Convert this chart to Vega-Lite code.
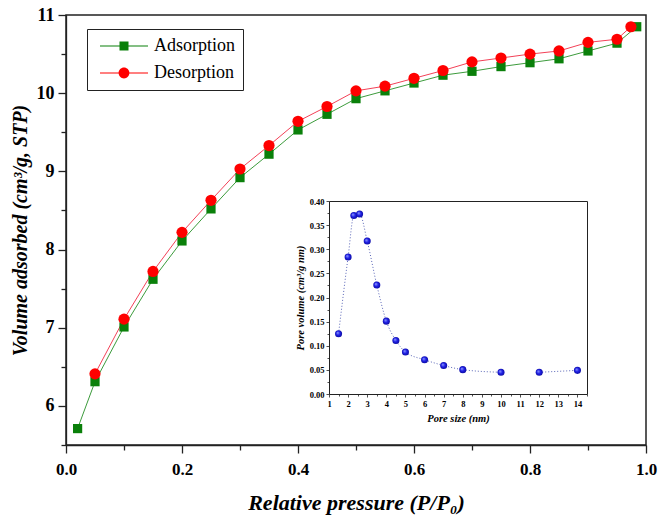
{
  "$schema": "https://vega.github.io/schema/vega-lite/v6.json",
  "autosize": "none",
  "width": 580,
  "height": 430,
  "padding": {"left": 66, "top": 15, "right": 14, "bottom": 77},
  "background": "white",
  "config": {
    "view": {"stroke": "#222222", "strokeWidth": 1.5},
    "font": "Liberation Serif",
    "axis": {"grid": false, "domainColor": "#222222", "tickColor": "#222222", "labelColor": "black", "titleColor": "black"}
  },
  "datasets": {
    "isotherm": [
      {"p": 0.02, "v": 5.71, "branch": "Adsorption"},
      {"p": 0.05, "v": 6.31, "branch": "Adsorption"},
      {"p": 0.10, "v": 7.01, "branch": "Adsorption"},
      {"p": 0.15, "v": 7.62, "branch": "Adsorption"},
      {"p": 0.20, "v": 8.11, "branch": "Adsorption"},
      {"p": 0.25, "v": 8.52, "branch": "Adsorption"},
      {"p": 0.30, "v": 8.92, "branch": "Adsorption"},
      {"p": 0.35, "v": 9.22, "branch": "Adsorption"},
      {"p": 0.40, "v": 9.53, "branch": "Adsorption"},
      {"p": 0.45, "v": 9.73, "branch": "Adsorption"},
      {"p": 0.50, "v": 9.93, "branch": "Adsorption"},
      {"p": 0.55, "v": 10.03, "branch": "Adsorption"},
      {"p": 0.60, "v": 10.13, "branch": "Adsorption"},
      {"p": 0.65, "v": 10.23, "branch": "Adsorption"},
      {"p": 0.70, "v": 10.28, "branch": "Adsorption"},
      {"p": 0.75, "v": 10.34, "branch": "Adsorption"},
      {"p": 0.80, "v": 10.39, "branch": "Adsorption"},
      {"p": 0.85, "v": 10.44, "branch": "Adsorption"},
      {"p": 0.90, "v": 10.54, "branch": "Adsorption"},
      {"p": 0.95, "v": 10.64, "branch": "Adsorption"},
      {"p": 0.984, "v": 10.85, "branch": "Adsorption"},
      {"p": 0.05, "v": 6.41, "branch": "Desorption"},
      {"p": 0.10, "v": 7.11, "branch": "Desorption"},
      {"p": 0.15, "v": 7.72, "branch": "Desorption"},
      {"p": 0.20, "v": 8.22, "branch": "Desorption"},
      {"p": 0.25, "v": 8.63, "branch": "Desorption"},
      {"p": 0.30, "v": 9.03, "branch": "Desorption"},
      {"p": 0.35, "v": 9.33, "branch": "Desorption"},
      {"p": 0.40, "v": 9.64, "branch": "Desorption"},
      {"p": 0.45, "v": 9.83, "branch": "Desorption"},
      {"p": 0.50, "v": 10.03, "branch": "Desorption"},
      {"p": 0.55, "v": 10.09, "branch": "Desorption"},
      {"p": 0.60, "v": 10.19, "branch": "Desorption"},
      {"p": 0.65, "v": 10.29, "branch": "Desorption"},
      {"p": 0.70, "v": 10.40, "branch": "Desorption"},
      {"p": 0.75, "v": 10.45, "branch": "Desorption"},
      {"p": 0.80, "v": 10.50, "branch": "Desorption"},
      {"p": 0.85, "v": 10.54, "branch": "Desorption"},
      {"p": 0.90, "v": 10.65, "branch": "Desorption"},
      {"p": 0.95, "v": 10.69, "branch": "Desorption"},
      {"p": 0.974, "v": 10.85, "branch": "Desorption"}
    ],
    "poreSize": [
      {"d": 1.5, "pv": 0.125, "run": 1},
      {"d": 2.0, "pv": 0.284, "run": 1},
      {"d": 2.3, "pv": 0.370, "run": 1},
      {"d": 2.6, "pv": 0.373, "run": 1},
      {"d": 3.0, "pv": 0.317, "run": 1},
      {"d": 3.5, "pv": 0.226, "run": 1},
      {"d": 4.0, "pv": 0.151, "run": 1},
      {"d": 4.5, "pv": 0.111, "run": 1},
      {"d": 5.0, "pv": 0.087, "run": 1},
      {"d": 6.0, "pv": 0.071, "run": 1},
      {"d": 7.0, "pv": 0.059, "run": 1},
      {"d": 8.0, "pv": 0.0505, "run": 1},
      {"d": 10.0, "pv": 0.045, "run": 1},
      {"d": 12.0, "pv": 0.045, "run": 2},
      {"d": 14.0, "pv": 0.049, "run": 2}
    ]
  },
  "layer": [
    {
      "data": {"name": "isotherm"},
      "encoding": {
        "x": {
          "field": "p", "type": "quantitative",
          "scale": {"domain": [0, 1], "nice": false, "zero": false},
          "axis": {
            "orient": "bottom",
            "title": "Relative pressure (P/P₀)",
            "titleFont": "Liberation Serif", "titleFontSize": 22, "titleFontWeight": "bold", "titleFontStyle": "italic",
            "titlePadding": 15,
            "values": [0, 0.1, 0.2, 0.3, 0.4, 0.5, 0.6, 0.7, 0.8, 0.9, 1.0],
            "labelExpr": "abs(datum.value * 5 - round(datum.value * 5)) < 1e-6 ? format(datum.value, '.1f') : ''",
            "labelFont": "Liberation Serif", "labelFontSize": 17, "labelFontWeight": "bold",
            "labelPadding": 8, "labelFlush": false,
            "tickSize": {"condition": {"test": "abs(datum.value * 5 - round(datum.value * 5)) < 1e-6", "value": 8}, "value": 5},
            "tickWidth": 1.3, "domainWidth": 1.3
          }
        },
        "y": {
          "field": "v", "type": "quantitative",
          "scale": {"domain": [5.5, 11], "nice": false, "zero": false},
          "axis": {
            "orient": "left",
            "title": "Volume adsorbed (cm³/g, STP)",
            "titleFont": "Liberation Serif", "titleFontSize": 20, "titleFontWeight": "bold", "titleFontStyle": "italic",
            "titlePadding": 6,
            "values": [5.5, 6, 6.5, 7, 7.5, 8, 8.5, 9, 9.5, 10, 10.5, 11],
            "labelExpr": "datum.value % 1 === 0 ? format(datum.value, 'd') : ''",
            "labelFont": "Liberation Serif", "labelFontSize": 18, "labelFontWeight": "bold",
            "labelPadding": 4, "labelFlush": false,
            "tickSize": {"condition": {"test": "datum.value % 1 === 0", "value": 8}, "value": 5},
            "tickWidth": 1.3, "domainWidth": 1.3
          }
        }
      },
      "layer": [
        {
          "transform": [{"filter": "datum.branch === 'Adsorption'"}],
          "mark": {"type": "line", "strokeWidth": 1, "color": "#1a8a1a", "opacity": 0.85}
        },
        {
          "transform": [{"filter": "datum.branch === 'Desorption'"}],
          "mark": {"type": "line", "strokeWidth": 1, "color": "#f0203a", "opacity": 0.85}
        },
        {
          "transform": [{"filter": "datum.branch === 'Adsorption'"}],
          "mark": {"type": "point", "shape": "square", "filled": true, "size": 85, "color": "#0a800a", "opacity": 1}
        },
        {
          "transform": [{"filter": "datum.branch === 'Desorption'"}],
          "mark": {"type": "point", "shape": "circle", "filled": true, "size": 125, "color": "#ff0000", "opacity": 1}
        },
        {
          "mark": {"type": "point", "filled": true, "opacity": 0},
          "encoding": {
            "color": {
              "field": "branch", "type": "nominal",
              "scale": {"domain": ["Adsorption", "Desorption"], "range": ["#0a800a", "#ff0000"]},
              "legend": {
                "orient": "none", "legendX": 21, "legendY": 14, "title": null,
                "labelFont": "Liberation Serif", "labelFontSize": 18, "labelColor": "black",
                "symbolSize": 144, "symbolOffset": 20, "labelOffset": 21, "symbolOpacity": 1, "symbolStrokeWidth": 0,
                "strokeColor": "#222222", "fillColor": "white", "padding": 8, "rowPadding": 9
              }
            },
            "shape": {
              "field": "branch", "type": "nominal",
              "scale": {
                "domain": ["Adsorption", "Desorption"],
                "range": [
                  "M-4,-0.09H4V0.09H-4ZM-0.75,-0.75H0.75V0.75H-0.75Z",
                  "M-4,-0.09H4V0.09H-4ZM-0.9,0A0.9,0.9,0,1,1,0.9,0A0.9,0.9,0,1,1,-0.9,0Z"
                ]
              },
              "legend": {
                "orient": "none", "legendX": 21, "legendY": 14, "title": null,
                "labelFont": "Liberation Serif", "labelFontSize": 18, "labelColor": "black",
                "symbolSize": 144, "symbolOffset": 20, "labelOffset": 21, "symbolOpacity": 1, "symbolStrokeWidth": 0,
                "strokeColor": "#222222", "fillColor": "white", "padding": 8, "rowPadding": 9
              }
            }
          }
        }
      ]
    },
    {
      "data": {"name": "poreSize"},
      "encoding": {
        "x": {
          "field": "d", "type": "quantitative",
          "scale": {"domain": [1, 14.5], "range": [263, 521], "nice": false, "zero": false}
        },
        "y": {
          "field": "pv", "type": "quantitative",
          "scale": {"domain": [0, 0.4], "range": [379, 186], "nice": false, "zero": true}
        }
      },
      "layer": [
        {
          "mark": {"type": "line", "interpolate": "monotone", "stroke": "#5a66b8", "strokeWidth": 1, "strokeDash": [1, 2]},
          "encoding": {
            "detail": {"field": "run", "type": "nominal"},
            "x": {
              "field": "d", "type": "quantitative",
              "scale": {"domain": [1, 14.5], "range": [263, 521], "nice": false, "zero": false},
              "axis": {
                "orient": "bottom", "offset": -51,
                "title": "Pore size (nm)",
                "titleFont": "Liberation Serif", "titleFontSize": 10.5, "titleFontWeight": "bold", "titleFontStyle": "italic",
                "titlePadding": 6,
                "values": [1, 1.5, 2, 2.5, 3, 3.5, 4, 4.5, 5, 5.5, 6, 6.5, 7, 7.5, 8, 8.5, 9, 9.5, 10, 10.5, 11, 11.5, 12, 12.5, 13, 13.5, 14, 14.5],
                "labelExpr": "datum.value % 1 === 0 ? format(datum.value, 'd') : ''",
                "labelFont": "Liberation Serif", "labelFontSize": 8.5, "labelFontWeight": "bold",
                "labelPadding": 2, "labelFlush": false,
                "tickSize": {"condition": {"test": "datum.value % 1 === 0", "value": 3}, "value": 2},
                "tickWidth": 0.8, "domainWidth": 1
              }
            },
            "y": {
              "field": "pv", "type": "quantitative",
              "scale": {"domain": [0, 0.4], "range": [379, 186], "nice": false, "zero": true},
              "axis": {
                "orient": "left", "offset": -263,
                "title": "Pore volume (cm³/g nm)",
                "titleFont": "Liberation Serif", "titleFontSize": 10.5, "titleFontWeight": "bold", "titleFontStyle": "italic",
                "titlePadding": 4,
                "values": [0, 0.025, 0.05, 0.075, 0.1, 0.125, 0.15, 0.175, 0.2, 0.225, 0.25, 0.275, 0.3, 0.325, 0.35, 0.375, 0.4],
                "labelExpr": "abs(datum.value * 20 - round(datum.value * 20)) < 1e-6 ? format(datum.value, '.2f') : ''",
                "labelFont": "Liberation Serif", "labelFontSize": 8.5, "labelFontWeight": "bold",
                "labelPadding": 2, "labelFlush": false,
                "tickSize": {"condition": {"test": "abs(datum.value * 20 - round(datum.value * 20)) < 1e-6", "value": 3}, "value": 2},
                "tickWidth": 0.8, "domainWidth": 1
              }
            }
          }
        },
        {
          "mark": {
            "type": "point", "filled": true, "size": 50, "opacity": 1,
            "fill": {
              "gradient": "radial",
              "x1": 0.35, "y1": 0.35, "r1": 0,
              "x2": 0.5, "y2": 0.5, "r2": 0.55,
              "stops": [{"offset": 0, "color": "#9aa6ff"}, {"offset": 0.5, "color": "#2020e6"}, {"offset": 1, "color": "#0a0a9a"}]
            }
          },
          "encoding": {
            "x": {
              "field": "d", "type": "quantitative",
              "scale": {"domain": [1, 14.5], "range": [263, 521], "nice": false, "zero": false},
              "axis": {"orient": "top", "offset": -186, "title": null, "labels": false, "ticks": false, "domainWidth": 1}
            },
            "y": {
              "field": "pv", "type": "quantitative",
              "scale": {"domain": [0, 0.4], "range": [379, 186], "nice": false, "zero": true},
              "axis": {"orient": "right", "offset": -59, "title": null, "labels": false, "ticks": false, "domainWidth": 1}
            }
          }
        }
      ],
      "resolve": {"axis": {"x": "independent", "y": "independent"}}
    }
  ],
  "resolve": {"scale": {"x": "independent", "y": "independent"}, "axis": {"x": "independent", "y": "independent"}}
}
